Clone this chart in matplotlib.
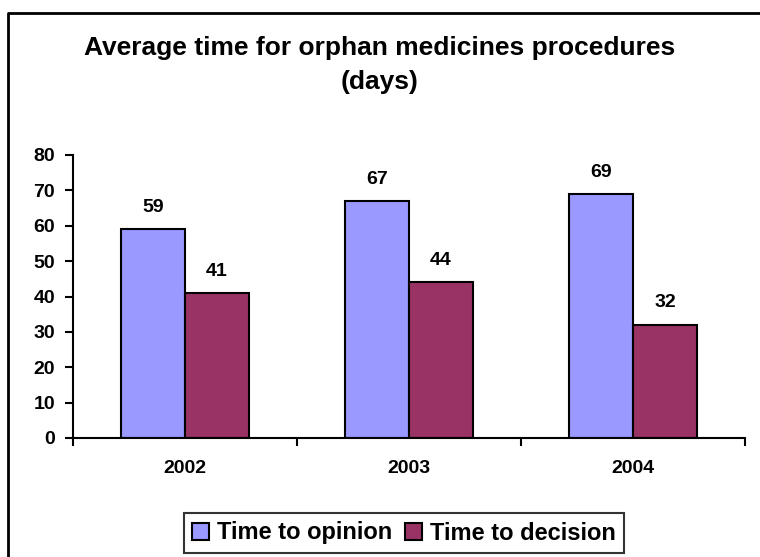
import matplotlib
matplotlib.use("Agg")
import matplotlib.pyplot as plt
import matplotlib.lines as mlines
import numpy as np

plt.rcParams['font.family'] = ['Liberation Sans', 'DejaVu Sans']
plt.rcParams['font.weight'] = 'bold'

years = ["2002", "2003", "2004"]
time_to_opinion = [59, 67, 69]
time_to_decision = [41, 44, 32]

fig = plt.figure(figsize=(7.6, 5.57), dpi=100)
# chart frame: only the top and left edges are visible in the crop
fig.lines.append(mlines.Line2D([8 / 760, 8 / 760, 1.0], [0.0, 1 - 13 / 557, 1 - 13 / 557],
                               transform=fig.transFigure, color='black', linewidth=2))

ax = fig.add_axes([73 / 760, 1 - 438 / 557, 672 / 760, 283 / 557])

x = np.arange(len(years)) + 0.5
w = 0.285
b1 = ax.bar(x - w / 2, time_to_opinion, w, color='#9999FF', edgecolor='black',
            linewidth=1.5, label='Time to opinion')
b2 = ax.bar(x + w / 2, time_to_decision, w, color='#993366', edgecolor='black',
            linewidth=1.5, label='Time to decision')

# value labels above the bars
for bars in (b1, b2):
    for r in bars:
        ax.annotate(f"{int(r.get_height())}", (r.get_x() + r.get_width() / 2, r.get_height()),
                    xytext=(0, 12.5), textcoords='offset points', ha='center', va='baseline',
                    fontsize=14, fontweight='bold')

ax.set_xlim(0, 3)
ax.set_ylim(0, 80)
ax.set_yticks(range(0, 81, 10))
# ticks at the category boundaries, labels in the middle
ax.set_xticks([0, 1, 2, 3])
ax.set_xticklabels([])
ax.set_xticks(x, minor=True)
ax.set_xticklabels(years, minor=True)
ax.tick_params(axis='x', which='minor', length=0, pad=16, labelsize=14)
ax.tick_params(axis='x', which='major', direction='out', length=5.5, width=1.5)
ax.tick_params(axis='y', direction='out', length=6, width=1.5, pad=7, labelsize=14)
for s in ['top', 'right']:
    ax.spines[s].set_visible(False)
for s in ['left', 'bottom']:
    ax.spines[s].set_linewidth(1.5)

fig.text(0.5, 1 - 55 / 557, "Average time for orphan medicines procedures",
         ha='center', va='baseline', fontsize=19, fontweight='bold')
fig.text(0.5, 1 - 89 / 557, "(days)",
         ha='center', va='baseline', fontsize=19, fontweight='bold')

leg = fig.legend(loc='center', bbox_to_anchor=(404 / 760, 1 - 533 / 557), ncol=2,
                 fontsize=17, frameon=True, fancybox=False, edgecolor='black',
                 handlelength=0.7, handleheight=0.7, handletextpad=0.35,
                 columnspacing=0.55, borderpad=0.35, borderaxespad=0)
leg.get_frame().set_linewidth(1.5)

fig.savefig("out.png", dpi=100)
